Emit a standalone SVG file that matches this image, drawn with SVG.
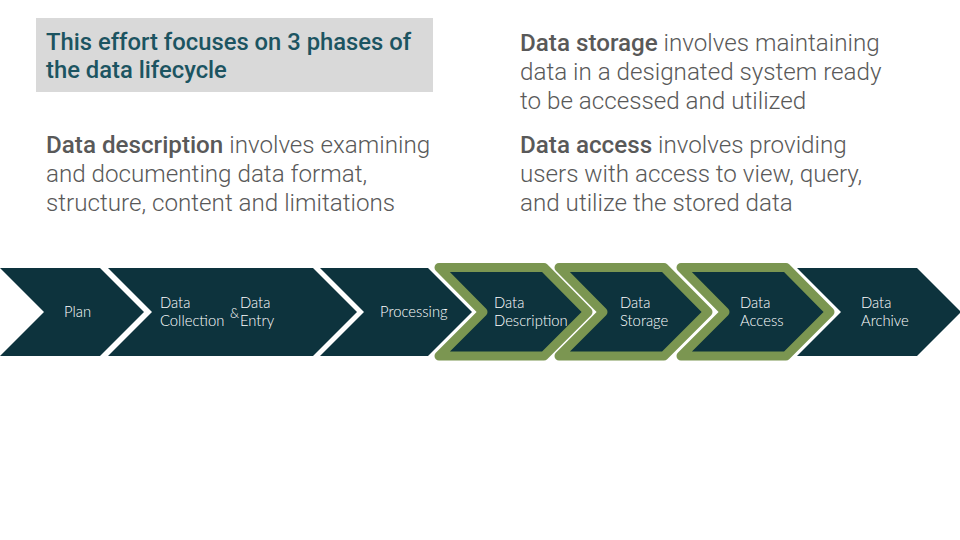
<svg xmlns="http://www.w3.org/2000/svg" width="960" height="540" viewBox="0 0 960 540">
  <defs>
    <style>
      .bg { fill: #ffffff; }
      .title-box { fill: #d9d9d9; }
      .title { font-family: Roboto, "Liberation Sans", sans-serif; font-weight: 500; font-size: 23.8px; fill: #1c5461; }
      .body { font-family: Roboto, "Liberation Sans", sans-serif; font-weight: 300; font-size: 24.2px; fill: #595959; }
      .body .b { font-weight: 500; }
      .chev { fill: #0d333d; }
      .chev-hl { fill: #0d333d; stroke: #7b9651; stroke-width: 9; stroke-linejoin: round; }
      .lbl { font-family: Lato, "Open Sans", sans-serif; font-weight: 300; font-size: 14.8px; fill: #ffffff; }
      .amp { font-family: Lato, "Open Sans", sans-serif; font-weight: 300; font-size: 13px; fill: #ffffff; }
    </style>
  </defs>

  <rect class="bg" x="0" y="0" width="960" height="540"/>

  <!-- Heading box -->
  <g id="heading">
    <rect class="title-box" x="36" y="18" width="397" height="74"/>
    <text class="title" x="46" y="50">This effort focuses on 3 phases of</text>
    <text class="title" x="46" y="78">the data lifecycle</text>
  </g>

  <!-- Phase descriptions -->
  <g id="desc-description">
    <text class="body" x="46" y="153"><tspan class="b">Data description</tspan> involves examining</text>
    <text class="body" x="46" y="182">and documenting data format,</text>
    <text class="body" x="46" y="211">structure, content and limitations</text>
  </g>
  <g id="desc-storage">
    <text class="body" x="520" y="51"><tspan class="b">Data storage</tspan> involves maintaining</text>
    <text class="body" x="520" y="80">data in a designated system ready</text>
    <text class="body" x="520" y="109">to be accessed and utilized</text>
  </g>
  <g id="desc-access">
    <text class="body" x="520" y="153"><tspan class="b">Data access</tspan> involves providing</text>
    <text class="body" x="520" y="182">users with access to view, query,</text>
    <text class="body" x="520" y="211">and utilize the stored data</text>
  </g>

  <!-- Lifecycle chevrons -->
  <g id="plan">
    <polygon class="chev" points="0,268 100,268 144,312 100,356 0,356 44,312"/>
    <text class="lbl" x="64" y="317">Plan</text>
  </g>
  <g id="collection-entry">
    <polygon class="chev" points="108,268 313,268 357,312 313,356 108,356 152,312"/>
    <text class="lbl" x="160" y="308">Data</text>
    <text class="lbl" x="160" y="326">Collection</text>
    <text class="amp" x="230" y="318">&amp;</text>
    <text class="lbl" x="240" y="308">Data</text>
    <text class="lbl" x="240" y="326">Entry</text>
  </g>
  <g id="processing">
    <polygon class="chev" points="320,268 428,268 472,312 428,356 320,356 364,312"/>
    <text class="lbl" x="380" y="317">Processing</text>
  </g>
  <g id="description">
    <polygon class="chev-hl" points="439,267.5 544,267.5 588,312 544,356 439,356 483,312"/>
    <text class="lbl" x="494" y="308">Data</text>
    <text class="lbl" x="494" y="326">Description</text>
  </g>
  <g id="storage">
    <polygon class="chev-hl" points="559,267.5 664,267.5 708,312 664,356 559,356 603,312"/>
    <text class="lbl" x="620" y="308">Data</text>
    <text class="lbl" x="620" y="326">Storage</text>
  </g>
  <g id="access">
    <polygon class="chev-hl" points="681,267.5 786,267.5 830,312 786,356 681,356 725,312"/>
    <text class="lbl" x="740" y="308">Data</text>
    <text class="lbl" x="740" y="326">Access</text>
  </g>
  <g id="archive">
    <polygon class="chev" points="797,268 917,268 961,312 917,356 797,356 841,312"/>
    <text class="lbl" x="861" y="308">Data</text>
    <text class="lbl" x="861" y="326">Archive</text>
  </g>

  <!-- No connectors: the chevrons abut directly -->
  <g id="connectors"/>
</svg>
